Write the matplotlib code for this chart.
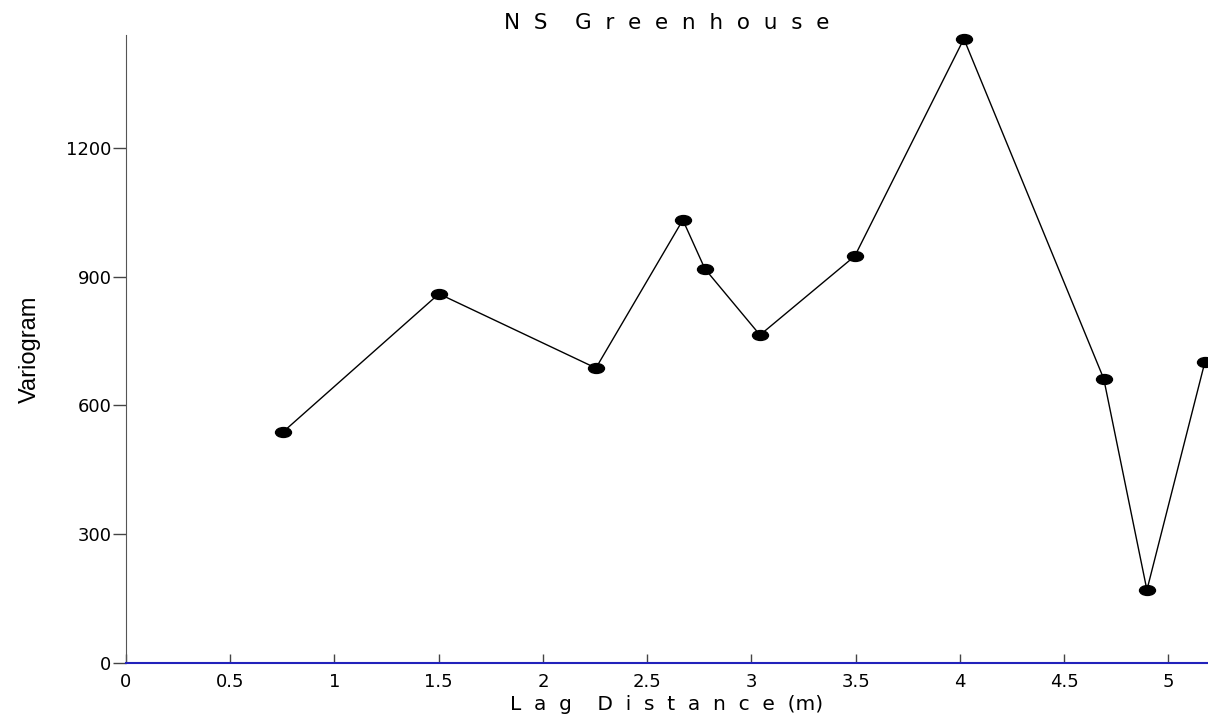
import matplotlib.pyplot as plt
import numpy as np
from matplotlib.path import Path
from matplotlib.transforms import Affine2D

plt.rcParams['font.family'] = ['DejaVu Sans']

# lag distance (m) and variogram values
lag = [0.753, 1.501, 2.254, 2.671, 2.777, 3.041, 3.496, 4.019, 4.690, 4.897, 5.175]
gamma = [538, 860, 687, 1032, 918, 764, 948, 1454, 662, 170, 701]

xticks = [0, 0.5, 1, 1.5, 2, 2.5, 3, 3.5, 4, 4.5, 5]
xticklabels = ['0', '0.5', '1', '1.5', '2', '2.5', '3', '3.5', '4', '4.5', '5']
yticks = [0, 300, 600, 900, 1200]

# ellipse marker, wider than tall
ellipse = Path.unit_circle().transformed(Affine2D().scale(1.0, 0.62))

fig = plt.figure(figsize=(12.08, 7.24), dpi=100)
ax = fig.add_axes([0.1043, 0.0843, 0.8957, 0.8674])

ax.plot(lag, gamma, color='black', linewidth=1.0,
        marker=ellipse, markersize=11.5, markerfacecolor='black',
        markeredgecolor='black', clip_on=False)

ax.set_xlim(0, 5.19)
ax.set_ylim(0, 1463)

ax.spines['top'].set_visible(False)
ax.spines['right'].set_visible(False)
ax.spines['left'].set_color('#555555')
ax.spines['bottom'].set_color('#2222bb')
ax.spines['bottom'].set_linewidth(1.5)

ax.set_xticks(xticks)
ax.set_xticklabels(xticklabels)
ax.set_yticks(yticks)
ax.tick_params(axis='x', direction='in', length=6.5, width=1, color='#444444',
               labelsize=13, pad=7)
ax.tick_params(axis='y', direction='out', length=9.5, width=1, color='#444444',
               labelsize=13, pad=1)

ax.set_title('N  S    G  r  e  e  n  h  o  u  s  e', fontsize=15.5, pad=4)
ax.set_xlabel('L  a  g    D  i  s  t  a  n  c  e  (m)', fontsize=14.5, labelpad=3)
ax.set_ylabel('Variogram', fontsize=17, labelpad=18, family='Liberation Sans')

fig.savefig('out.png', dpi=100)
